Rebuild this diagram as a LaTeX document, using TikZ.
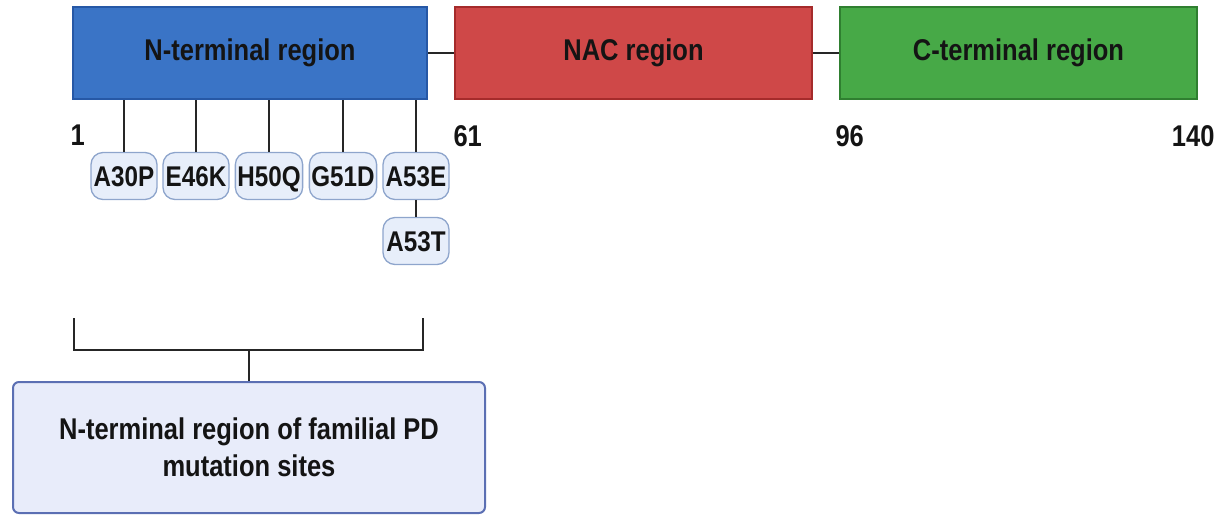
\documentclass[tikz,border=0pt]{standalone}
\usepackage{fontspec}
\setmainfont{Liberation Sans}[FakeStretch=0.85]
\usetikzlibrary{positioning}
\definecolor{nblue}{HTML}{3A74C6}
\definecolor{nblueline}{HTML}{2658A6}
\definecolor{nacred}{HTML}{CF4848}
\definecolor{nacredline}{HTML}{A52B2B}
\definecolor{cgreen}{HTML}{47A947}
\definecolor{cgreenline}{HTML}{2F7F30}
\definecolor{mutfill}{HTML}{E7EEFA}
\definecolor{mutline}{HTML}{8EA5CC}
\definecolor{notefill}{HTML}{E8ECFA}
\definecolor{noteline}{HTML}{5B6FB3}
\begin{document}
\begin{tikzpicture}[x=1pt,y=-1pt, every node/.style={font=\fontsize{30}{37}\selectfont\bfseries,text=black!92},
  region/.style={draw,line width=2pt,minimum width=354pt,minimum height=92pt,inner sep=0pt},
  mut/.style={draw=mutline,fill=mutfill,line width=1.3pt,rounded corners=12pt,minimum height=47pt,minimum width=66pt,
    inner xsep=2pt,inner ysep=0pt,text height=20.5pt,text depth=0pt,font=\fontsize{28.5}{34}\selectfont\bfseries},
  link/.style={line width=2pt,black!85}]
  \useasboundingbox (0,0) rectangle (1222,515);
  \node[region,fill=nblue,draw=nblueline] (nterm) at (250,53) {N-terminal region};
  \node[region,fill=nacred,draw=nacredline,minimum width=357pt] (nac) at (633.5,53) {NAC region};
  \node[region,fill=cgreen,draw=cgreenline,minimum width=357pt] (cterm) at (1018.5,53) {C-terminal region};
  \draw[link] (nterm) -- (nac); \draw[link] (nac) -- (cterm);
  \node[anchor=base west] (pos1) at (67,145) {1};
  \node[anchor=base west] (pos61) at (450,146) {61};
  \node[anchor=base west] (pos96) at (832,146) {96};
  \node[anchor=base east] (pos140) at (1218,146) {140};
  \node[mut] (a30p) at (124,176) {A30P};
  \node[mut] (e46k) at (196,176) {E46K};
  \node[mut] (h50q) at (269,176) {H50Q};
  \node[mut] (g51d) at (343,176) {G51D};
  \node[mut] (a53e) at (416,176) {A53E};
  \node[mut] (a53t) at (416,241) {A53T};
  \draw[link] (a30p.north |- nterm.south) -- (a30p); \draw[link] (e46k.north |- nterm.south) -- (e46k);
  \draw[link] (h50q.north |- nterm.south) -- (h50q); \draw[link] (g51d.north |- nterm.south) -- (g51d);
  \draw[link] (a53e.north |- nterm.south) -- (a53e); \draw[link] (a53e) -- (a53t);
  % bracket over the N-terminal sites
  \coordinate (brL) at (74,318); \coordinate (brR) at (423,318); \coordinate (brMid) at (249,350);
  \draw[link] (brL) |- (brMid) -| (brR);
  \node[draw=noteline,fill=notefill,line width=2pt,rounded corners=6pt,minimum width=472pt,minimum height=131pt,align=center] (note) at (249,447.5) {N-terminal region of familial PD\\mutation sites};
  \draw[link] (brMid) -- (note);
\end{tikzpicture}
\end{document}
